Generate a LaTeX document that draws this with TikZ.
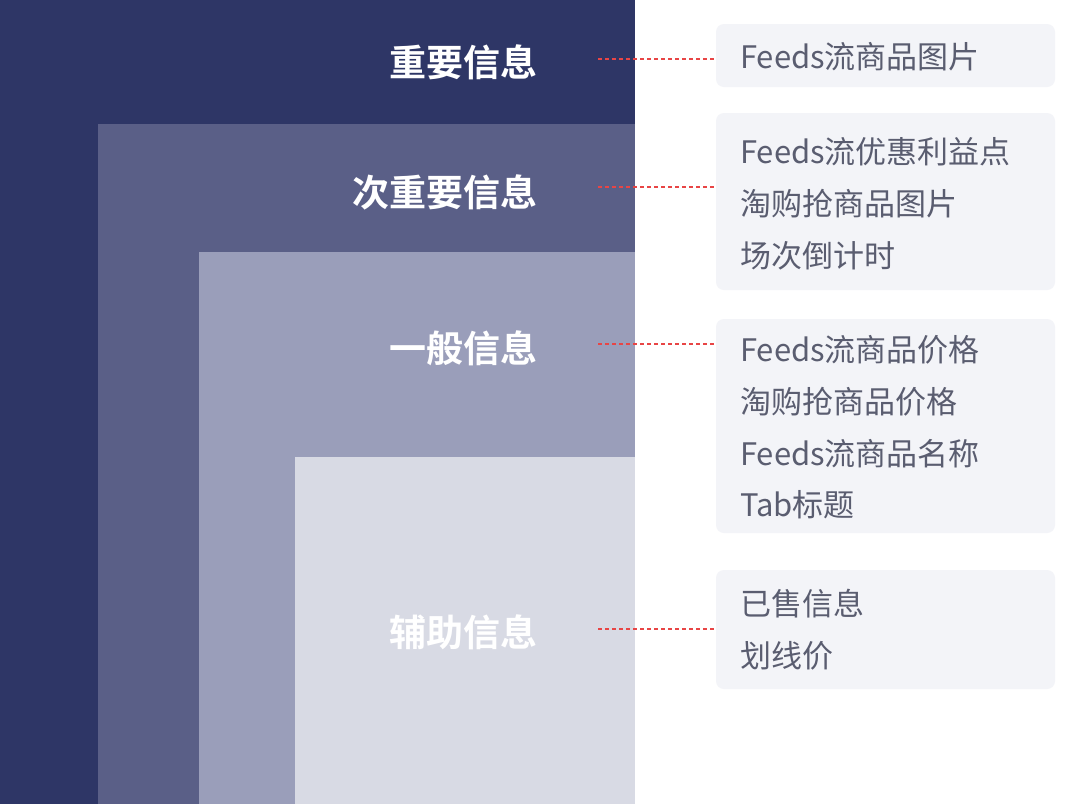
\documentclass[tikz,border=0pt]{standalone}
\usepackage{fontspec}
\newfontfamily\cjk{Noto Sans CJK SC}
\newfontfamily\cjkb{Noto Sans CJK SC Bold}
\definecolor{c1}{HTML}{2E3666}
\definecolor{c2}{HTML}{5A5F87}
\definecolor{c3}{HTML}{9A9EBA}
\definecolor{c4}{HTML}{D8DAE4}
\definecolor{boxf}{HTML}{F3F4F8}
\definecolor{txt}{HTML}{5A5D70}
\definecolor{red}{HTML}{E84545}
\begin{document}
\begin{tikzpicture}[x=1pt,y=-1pt,
 lbl/.style={anchor=east,text=white,font=\cjkb\fontsize{37}{40}\selectfont,inner sep=0},
 info/.style={fill=boxf,rounded corners=8pt},
 itm/.style={anchor=west,text=txt,font=\cjk\fontsize{31}{34}\selectfont,inner sep=0},
 lnk/.style={red,dashed,dash pattern=on 4pt off 3pt,line width=1.5pt}]
\useasboundingbox (0,0) rectangle (1080,804);
\fill[white] (0,0) rectangle (1080,804);
\fill[c1] (0,0) rectangle (635,804);
\fill[c2] (98,124) rectangle (635,804);
\fill[c3] (199,252) rectangle (635,804);
\fill[c4] (295,457) rectangle (635,804);
\node[lbl] (l1) at (538,62) {重要信息};
\node[lbl] (l2) at (538,192) {次重要信息};
\node[lbl] (l3) at (538,348) {一般信息};
\node[lbl] (l4) at (538,632) {辅助信息};
\coordinate (a1) at (598,59); \coordinate (a2) at (598,187);
\coordinate (a3) at (598,344); \coordinate (a4) at (598,629);
\path[info] (716,24) rectangle (1055,87) coordinate (b1e);
\path[info] (716,113) rectangle (1055,290);
\path[info] (716,319) rectangle (1055,533);
\path[info] (716,570) rectangle (1055,689);
\coordinate (b1) at (716,59); \coordinate (b2) at (716,187);
\coordinate (b3) at (716,344); \coordinate (b4) at (716,629);
\draw[lnk] (a1) -- (b1); \draw[lnk] (a2) -- (b2);
\draw[lnk] (a3) -- (b3); \draw[lnk] (a4) -- (b4);
\node[itm] (t1) at (740,57) {Feeds流商品图片};
\node[itm] (t2) at (740,152) {Feeds流优惠利益点};
\node[itm] (t3) at (740,204) {淘购抢商品图片};
\node[itm] (t4) at (740,256) {场次倒计时};
\node[itm] (t5) at (740,350) {Feeds流商品价格};
\node[itm] (t6) at (740,402) {淘购抢商品价格};
\node[itm] (t7) at (740,454) {Feeds流商品名称};
\node[itm] (t8) at (740,505) {Tab标题};
\node[itm] (t9) at (740,604) {已售信息};
\node[itm] (t10) at (740,656) {划线价};
\end{tikzpicture}
\end{document}
